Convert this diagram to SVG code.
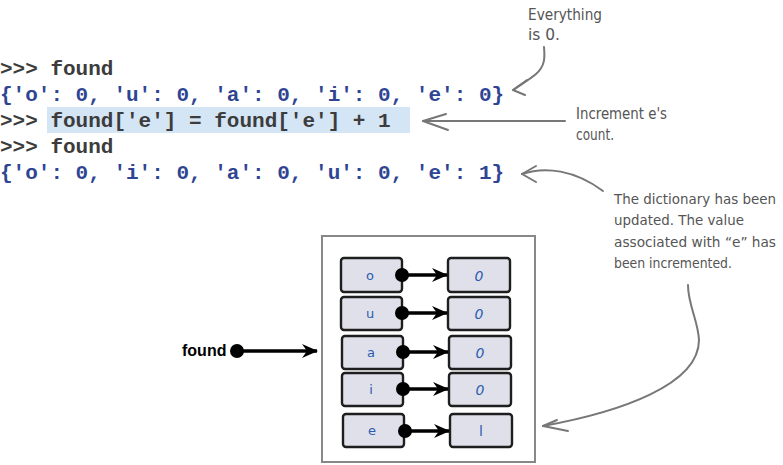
<svg xmlns="http://www.w3.org/2000/svg" width="783" height="465" viewBox="0 0 783 465">
<defs>
<style>
.code{font-family:"Liberation Mono","Courier New",monospace;font-weight:bold;font-size:21px;}
.p{fill:#3c3c3c;}
.d{fill:#2f4593;}
.note{font-family:"DejaVu Sans",sans-serif;font-size:15px;fill:#555;}
.nd{font-size:13.5px;}
.ga{fill:none;stroke:#777;stroke-width:2;stroke-linecap:round;stroke-linejoin:round;}
.kb{fill:#dfe0ea;stroke:#1e1e1e;stroke-width:2.4;}
.kt{font-family:"DejaVu Sans",sans-serif;font-size:13px;fill:#2a5db0;text-anchor:middle;}
.vt{font-family:"DejaVu Sans",sans-serif;font-size:14px;fill:#2a5db0;text-anchor:middle;font-style:italic;}
.bl{stroke:#000;stroke-width:3.5;fill:none;}
</style>
<marker id="ah" viewBox="0 0 16 14" refX="15" refY="7" markerWidth="16" markerHeight="14" markerUnits="userSpaceOnUse" orient="auto">
<path d="M0,0 L16,7 L0,14 L5,7 Z" fill="#000"/>
</marker>
</defs>
<rect x="47" y="107" width="363" height="26" fill="#d4e5f5"/>
<g id="code">
<text class="code p" x="0" y="75">&gt;&gt;&gt; found</text>
<text class="code d" x="0" y="101">{'o': 0, 'u': 0, 'a': 0, 'i': 0, 'e': 0}</text>
<text class="code p" x="0" y="127">&gt;&gt;&gt; found['e'] = found['e'] + 1</text>
<text class="code p" x="0" y="153">&gt;&gt;&gt; found</text>
<text class="code d" x="0" y="179">{'o': 0, 'i': 0, 'a': 0, 'u': 0, 'e': 1}</text>
</g>
<g id="note-zero">
<text class="note" x="528" y="20" textLength="74" lengthAdjust="spacingAndGlyphs">Everything</text>
<text class="note" x="528" y="40" textLength="32" lengthAdjust="spacingAndGlyphs">is 0.</text>
</g>
<g id="note-inc">
<text class="note" x="576" y="119" textLength="91" lengthAdjust="spacingAndGlyphs">Increment e's</text>
<text class="note" x="576" y="140" textLength="38" lengthAdjust="spacingAndGlyphs">count.</text>
</g>
<g id="note-dict">
<text class="note nd" x="614" y="204" textLength="162" lengthAdjust="spacingAndGlyphs">The dictionary has been</text>
<text class="note nd" x="614" y="225" textLength="130" lengthAdjust="spacingAndGlyphs">updated. The value</text>
<text class="note nd" x="614" y="247" textLength="162" lengthAdjust="spacingAndGlyphs">associated with “e” has</text>
<text class="note nd" x="614" y="268" textLength="118" lengthAdjust="spacingAndGlyphs">been incremented.</text>
</g>
<g id="outer-box">
<rect x="322" y="236" width="213" height="226" fill="#fff" stroke="#888" stroke-width="2"/>
</g>
<g id="row-o">
<rect class="kb" x="341" y="258" width="61" height="34" rx="3"/>
<rect class="kb" x="448" y="258" width="62" height="34" rx="3"/>
<text class="kt" x="370" y="280">o</text>
<text class="vt" x="479" y="281">0</text>
</g>
<g id="row-u">
<rect class="kb" x="341" y="297" width="61" height="33" rx="3"/>
<rect class="kb" x="448" y="297" width="62" height="33" rx="3"/>
<text class="kt" x="370" y="318">u</text>
<text class="vt" x="479" y="319">0</text>
</g>
<g id="row-a">
<rect class="kb" x="342" y="336" width="61" height="33" rx="3"/>
<rect class="kb" x="449" y="336" width="62" height="33" rx="3"/>
<text class="kt" x="371" y="357">a</text>
<text class="vt" x="480" y="358">0</text>
</g>
<g id="row-i">
<rect class="kb" x="342" y="373" width="61" height="33" rx="3"/>
<rect class="kb" x="449" y="373" width="62" height="33" rx="3"/>
<text class="kt" x="371" y="394">i</text>
<text class="vt" x="480" y="395">0</text>
</g>
<g id="row-e">
<rect class="kb" x="343" y="414" width="61" height="33" rx="3"/>
<rect class="kb" x="450" y="414" width="62" height="33" rx="3"/>
<text class="kt" x="372" y="435">e</text>
<text class="vt" x="481" y="436" style="font-style:normal">l</text>
</g>
<g id="found-var">
<text x="182" y="356" font-family="Liberation Sans,Arial,sans-serif" font-weight="bold" font-size="16" fill="#000">found</text>
<circle cx="237" cy="351" r="7" fill="#000"/>
</g>
<g id="connectors">
<line class="bl" x1="237" y1="351" x2="317" y2="351" marker-end="url(#ah)"/>
<circle cx="402" cy="275" r="7"/>
<line class="bl" x1="402" y1="275" x2="447" y2="275" marker-end="url(#ah)"/>
<circle cx="402" cy="313" r="7"/>
<line class="bl" x1="402" y1="313" x2="447" y2="313" marker-end="url(#ah)"/>
<circle cx="403" cy="352" r="7"/>
<line class="bl" x1="403" y1="352" x2="448" y2="352" marker-end="url(#ah)"/>
<circle cx="403" cy="389" r="7"/>
<line class="bl" x1="403" y1="389" x2="448" y2="389" marker-end="url(#ah)"/>
<circle cx="405" cy="431" r="7"/>
<line class="bl" x1="405" y1="431" x2="449" y2="431" marker-end="url(#ah)"/>
<path class="ga" d="M544,47 C545,58 545,66 536,74 C529,80 520,85 513,90"/>
<path class="ga" d="M513,90 L527,80 M513,90 L525,95"/>
<path class="ga" d="M565,121 L423,121"/>
<path class="ga" d="M423,121 L446,114 M423,121 L448,130"/>
<path class="ga" d="M522,174 C545,166 575,170 603,191"/>
<path class="ga" d="M522,174 L536,166 M522,174 L536,182"/>
<path class="ga" d="M688,285 C688,305 698,320 699,340 C699,385 620,412 543,426"/>
<path class="ga" d="M543,426 L557,420 M543,426 L568,431"/>
</g>
</svg>
